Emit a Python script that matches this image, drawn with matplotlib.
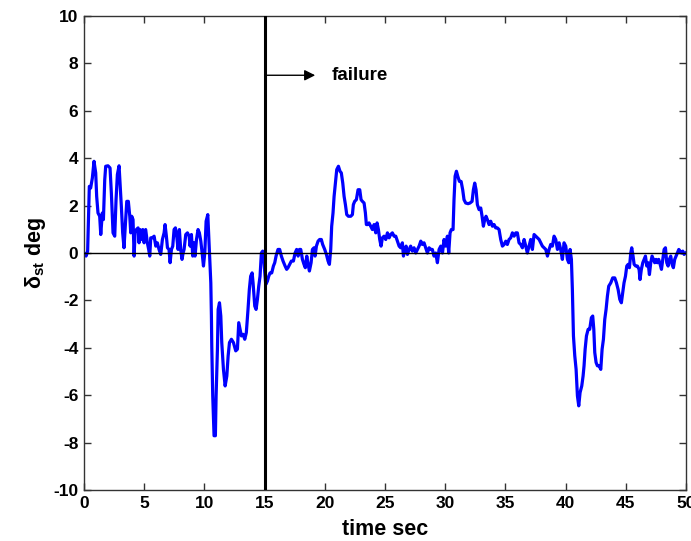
import numpy as np
import matplotlib
matplotlib.use('Agg')
import matplotlib.pyplot as plt

plt.rcParams['font.family'] = ['Liberation Sans', 'DejaVu Sans']
plt.rcParams['mathtext.fontset'] = 'custom'
plt.rcParams['mathtext.rm'] = 'Liberation Sans:bold'
plt.rcParams['mathtext.bf'] = 'Liberation Sans:bold'
plt.rcParams['axes.unicode_minus'] = False

# steering angle delta_st (deg), in four pieces
t_a = [0.00, 0.17, 0.30, 0.36, 0.44, 0.55, 0.69, 0.83, 0.97, 1.05, 1.16, 1.30, 1.39, 1.52,
       1.61, 1.72, 1.80, 1.99, 2.16, 2.27, 2.41, 2.55, 2.66, 2.77, 2.91, 2.99, 3.10, 3.21,
       3.32, 3.43, 3.55, 3.68, 3.80, 3.88, 3.96, 4.07, 4.16, 4.24, 4.35, 4.49, 4.57, 4.65,
       4.76, 4.88, 4.99, 5.12, 5.26, 5.37, 5.46, 5.54, 5.68, 5.82, 5.96, 6.09, 6.23, 6.37,
       6.51, 6.65, 6.73, 6.84, 6.93, 7.06, 7.15, 7.26, 7.37, 7.48, 7.59, 7.70, 7.81, 7.92,
       8.03, 8.14, 8.23, 8.31, 8.45, 8.59, 8.73, 8.81, 8.92, 9.03, 9.14, 9.22, 9.34, 9.47,
       9.58, 9.70, 9.81, 9.92, 10.03, 10.14, 10.28, 10.36, 10.44, 10.53, 10.58, 10.61, 10.69,
       10.80, 10.91, 10.97, 11.08, 11.14, 11.25, 11.36, 11.44, 11.58, 11.72, 11.86, 11.97,
       12.08, 12.24, 12.41]
d_a = [0.0, -0.13, 0.08, 1.2, 2.81, 2.74, 3.16, 3.87, 3.38, 2.39, 1.69, 1.55, 0.78, 1.69,
       1.41, 3.09, 3.66, 3.68, 3.59, 2.53, 0.85, 0.71, 2.25, 3.31, 3.68, 2.95, 1.97, 0.85,
       0.22, 1.13, 2.18, 2.18, 1.55, 0.85, 1.55, 1.41, -0.13, 0.85, 0.99, 1.06, 0.43, 0.99,
       0.57, 0.99, 0.43, 0.99, 0.43, 0.15, -0.13, 0.64, 0.64, 0.71, 0.29, 0.43, 0.15, -0.06,
       0.57, 0.85, 1.2, 0.71, 0.22, 0.15, -0.41, 0.15, 0.29, 0.99, 1.06, 0.71, 0.15, 0.99,
       0.15, -0.27, 0.0, 0.15, 0.78, 0.85, 0.71, 0.29, 0.78, -0.13, 0.43, -0.13, 0.57, 0.99,
       0.85, 0.5, 0.0, -0.55, 0.0, 1.34, 1.62, 0.71, -0.27, -1.26, -2.66, -3.92, -6.03,
       -7.71, -7.71, -6.03, -4.06, -2.38, -2.1, -2.66, -3.78, -4.91, -5.61, -5.19, -4.34,
       -3.78, -3.64, -3.78]

t_b = [12.60, 12.74, 12.85, 12.96, 13.07, 13.21, 13.35, 13.48, 13.62, 13.73, 13.84, 13.96,
       14.04, 14.18, 14.29, 14.40, 14.51, 14.62, 14.73, 14.84, 14.95, 15.09, 15.23, 15.34,
       15.45, 15.59, 15.73, 15.84, 15.95, 16.11, 16.25, 16.39, 16.53, 16.70, 16.83, 16.94,
       17.08, 17.22, 17.39, 17.53, 17.66, 17.78, 17.89, 18.00, 18.14, 18.27, 18.38, 18.50,
       18.61, 18.72, 18.86, 18.97, 19.10, 19.19, 19.30, 19.44, 19.57, 19.71, 19.82, 19.99,
       20.13, 20.27, 20.38, 20.49, 20.57, 20.68, 20.77, 20.88, 20.99, 21.13, 21.26, 21.37,
       21.49, 21.60, 21.71, 21.82, 21.96, 22.15, 22.29, 22.37, 22.48, 22.62, 22.76, 22.90,
       23.01, 23.12, 23.26, 23.37, 23.45, 23.56, 23.67, 23.81, 23.95, 24.09, 24.23, 24.34,
       24.45, 24.56, 24.67, 24.78, 24.92]
d_b = [-4.13, -4.06, -2.94, -3.22, -3.5, -3.43, -3.64, -3.36, -2.38, -1.54, -0.98, -0.84,
       -1.26, -2.24, -2.38, -1.96, -1.4, -0.98, 0.0, 0.08, -0.41, -1.33, -1.19, -0.98,
       -0.84, -0.84, -0.55, -0.41, -0.13, 0.15, 0.15, -0.13, -0.34, -0.55, -0.69, -0.62,
       -0.48, -0.34, -0.34, 0.0, 0.15, -0.13, 0.15, 0.15, -0.27, -0.48, -0.62, -0.13,
       -0.48, -0.76, -0.41, 0.15, 0.22, -0.13, 0.29, 0.5, 0.57, 0.57, 0.36, 0.15,
       -0.06, -0.34, -0.48, 0.15, 1.13, 1.69, 2.39, 2.95, 3.52, 3.66, 3.45, 3.38,
       2.95, 2.39, 2.04, 1.62, 1.55, 1.55, 1.62, 2.04, 2.18, 2.25, 2.67, 2.67,
       2.25, 2.18, 2.11, 1.69, 1.2, 1.2, 1.27, 1.13, 0.99, 1.2, 0.85, 1.27,
       0.99, 0.57, 0.29, 0.64, 0.71]

t_c = [25.06, 25.20, 25.34, 25.47, 25.61, 25.75, 25.89, 26.03, 26.17, 26.30, 26.44, 26.53,
       26.64, 26.75, 26.86, 27.00, 27.13, 27.27, 27.41, 27.55, 27.69, 27.83, 27.97, 28.10,
       28.24, 28.38, 28.52, 28.66, 28.80, 28.93, 29.07, 29.21, 29.35, 29.49, 29.63, 29.77,
       29.90, 30.04, 30.18, 30.29, 30.40, 30.51, 30.65, 30.73, 30.82, 30.93, 31.04, 31.18,
       31.32, 31.45, 31.56, 31.70, 31.90, 32.06, 32.23, 32.34, 32.45, 32.56, 32.67, 32.81,
       32.95, 33.06, 33.17, 33.28, 33.39, 33.50, 33.64, 33.78, 33.92, 34.06, 34.19, 34.33,
       34.47, 34.61, 34.75, 34.89, 35.03, 35.16, 35.30, 35.44, 35.58, 35.72, 35.86, 35.99,
       36.13, 36.27, 36.41, 36.55, 36.69, 36.82, 36.96, 37.10, 37.24, 37.38]
d_c = [0.57, 0.85, 0.64, 0.78, 0.85, 0.71, 0.71, 0.5, 0.29, 0.22, 0.43, -0.13,
       0.15, 0.29, -0.06, 0.15, 0.29, 0.08, 0.22, 0.0, 0.15, 0.29, 0.5, 0.36,
       0.43, 0.22, 0.0, 0.22, 0.15, 0.15, -0.13, 0.0, -0.41, 0.15, 0.29, 0.0,
       0.57, 0.29, 0.71, 0.0, 0.85, 0.99, 0.99, 2.25, 3.24, 3.45, 3.24, 3.02,
       3.02, 2.67, 2.25, 2.11, 2.08, 2.11, 2.18, 2.67, 2.95, 2.67, 2.04, 1.83,
       1.9, 1.55, 1.13, 1.41, 1.55, 1.41, 1.2, 1.34, 1.13, 1.2, 1.06, 1.06,
       0.99, 0.57, 0.29, 0.36, 0.5, 0.36, 0.57, 0.64, 0.85, 0.71, 0.85, 0.85,
       0.43, 0.36, 0.22, 0.57, 0.29, 0.0, 0.29, 0.57, 0.15, 0.78]

t_d = [37.52, 37.66, 37.80, 37.93, 38.07, 38.21, 38.35, 38.49, 38.63, 38.76, 38.90, 39.04,
       39.18, 39.32, 39.46, 39.59, 39.73, 39.87, 40.01, 40.15, 40.26, 40.37, 40.48, 40.56,
       40.65, 40.76, 40.87, 40.98, 41.09, 41.20, 41.34, 41.45, 41.53, 41.62, 41.73, 41.87,
       42.00, 42.14, 42.25, 42.34, 42.42, 42.53, 42.64, 42.78, 42.92, 43.03, 43.14, 43.25,
       43.36, 43.47, 43.58, 43.75, 43.91, 44.08, 44.22, 44.36, 44.50, 44.63, 44.74, 44.85,
       44.97, 45.08, 45.19, 45.30, 45.41, 45.49, 45.60, 45.69, 45.82, 45.96, 46.10, 46.18,
       46.29, 46.41, 46.52, 46.63, 46.74, 46.85, 46.96, 47.07, 47.18, 47.29, 47.40, 47.51,
       47.62, 47.73, 47.85, 47.96, 48.07, 48.18, 48.29, 48.40, 48.51, 48.62, 48.73, 48.84,
       48.95, 49.06, 49.17, 49.28, 49.40, 49.51, 49.62, 49.73, 49.84, 49.97]
d_d = [0.71, 0.64, 0.57, 0.43, 0.29, 0.22, 0.15, -0.13, 0.15, 0.36, 0.29, 0.71,
       0.57, 0.15, 0.43, 0.15, -0.27, 0.43, 0.29, -0.27, -0.41, 0.15, -0.27, -1.54,
       -3.5, -4.34, -4.91, -6.03, -6.45, -5.89, -5.61, -5.19, -4.76, -4.06, -3.5, -3.22,
       -3.22, -2.73, -2.66, -3.22, -4.2, -4.62, -4.76, -4.76, -4.91, -4.06, -3.64, -2.8,
       -2.38, -1.82, -1.4, -1.26, -1.05, -1.05, -1.26, -1.54, -1.96, -2.1, -1.68, -1.26,
       -0.98, -0.55, -0.48, -0.62, 0.0, 0.22, -0.13, -0.48, -0.55, -0.55, -0.69, -1.12,
       -0.69, -0.41, -0.27, -0.13, -0.55, -0.41, -0.91, -0.41, -0.13, -0.27, -0.41, -0.27,
       -0.41, -0.27, -0.48, -0.69, -0.27, 0.15, 0.22, -0.41, -0.55, -0.27, -0.13, -0.48,
       -0.62, -0.27, -0.13, 0.0, 0.15, 0.08, 0.0, 0.08, -0.06, 0.0]

failure_time = 15
failure_label = 'failure'

time_s = np.concatenate([t_a, t_b, t_c, t_d])
delta_st = np.concatenate([d_a, d_b, d_c, d_d])

fig = plt.figure(figsize=(6.91, 5.41), dpi=100)
ax = fig.add_axes([0.1216, 0.0943, 0.8712, 0.8761])

ax.plot(time_s, delta_st, color='#0000ff', lw=2.3, zorder=2)
ax.plot([0, 50], [0, 0], color='black', lw=1.0, zorder=3)
ax.axvline(failure_time, color='black', lw=2.2, zorder=4)

ax.annotate('', xy=(19.2, 7.5), xytext=(failure_time, 7.5),
            arrowprops=dict(arrowstyle='-|>', color='black', lw=1.0,
                            mutation_scale=16, shrinkA=0, shrinkB=0))
ax.text(20.6, 7.5, failure_label, fontsize=13.5, fontweight='bold', va='center', ha='left')

ax.set_xlim(0, 50)
ax.set_ylim(-10, 10)
ax.set_xticks(range(0, 51, 5))
ax.set_yticks(range(-10, 11, 2))

ax.tick_params(direction='in', length=5, width=1, top=True, right=True,
               labelsize=12.5, pad=4, color='#333333')
for lbl in ax.get_xticklabels() + ax.get_yticklabels():
    lbl.set_fontweight('bold')
for sp in ax.spines.values():
    sp.set_color('#333333')
    sp.set_linewidth(1.0)

ax.set_xlabel('time sec', fontsize=15.5, fontweight='bold', labelpad=6)
ax.set_ylabel(r'δ$_{\mathbf{st}}$ deg', fontsize=15.5, fontweight='bold', labelpad=4)

fig.savefig('out.png', dpi=100)
